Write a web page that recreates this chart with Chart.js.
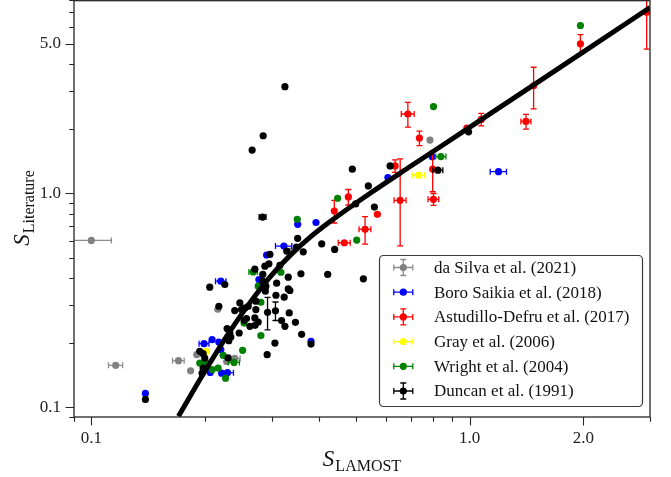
<!DOCTYPE html>
<html>
<head>
<meta charset="utf-8">
<script src="https://cdn.jsdelivr.net/npm/chart.js@4.4.0/dist/chart.umd.min.js"></script>
<style>
  html, body { margin: 0; padding: 0; background: #fff; }
  #wrap { width: 671px; height: 477px; }
</style>
</head>
<body>
<div id="wrap"><canvas id="chart"></canvas></div>
<script>
// axis ticks
const xMajor = [0.1, 1, 2];
const xMajorLabels = ['0.1', '1.0', '2.0'];
const xMinor = [0.09, 0.2, 0.3, 0.4, 0.5, 0.6, 0.7, 0.8, 0.9, 3];
const yMajor = [0.1, 1, 5];
const yMajorLabels = ['0.1', '1.0', '5.0'];
const yMinor = [0.09, 0.2, 0.3, 0.4, 0.5, 0.6, 0.7, 0.8, 0.9, 2, 3, 4, 6, 7, 8];

// fitted relation
const fitX = [0.17, 0.20, 0.232, 0.263, 0.297, 0.335, 0.379, 0.428, 0.546, 0.70, 1.0, 1.475, 1.964, 3.0];
const fitY = [0.0907, 0.148, 0.225, 0.309, 0.407, 0.511, 0.623, 0.737, 1.00, 1.34, 2.03, 3.20, 4.48, 7.38];

// da Silva et al. (2021)
const silvaX = [0.100, 0.116, 0.170, 0.183, 0.190, 0.216, 0.228, 0.2395, 0.337, 0.786];
const silvaY = [0.602, 0.157, 0.165, 0.148, 0.176, 0.287, 0.1635, 0.169, 0.537, 1.771];
const silvaXErr = [0.013, 0.005, 0.006, 0, 0, 0, 0, 0.008, 0, 0];

// Boro Saikia et al. (2018)
const boroX = [0.139, 0.1987, 0.2086, 0.2173, 0.220, 0.220, 0.2774, 0.2907, 0.3229, 0.3513, 0.3927, 0.3809, 0.2063, 0.221, 0.2291, 0.6083, 0.7966, 1.193];
const boroY = [0.116, 0.1982, 0.2069, 0.2016, 0.1858, 0.388, 0.395, 0.5145, 0.5662, 0.7157, 0.730, 0.2032, 0.1454, 0.1443, 0.145, 1.183, 1.48, 1.261];
const boroXErr = [0, 0.006, 0, 0, 0, 0.007, 0, 0, 0.016, 0, 0, 0, 0, 0, 0.0085, 0, 0, 0.059];

// Astudillo-Defru et al. (2017)
const astX = [2.94, 1.964, 1.477, 1.41, 1.074, 0.984, 0.687, 0.737, 0.799, 0.803, 0.6555, 0.6356, 0.5706, 0.5294, 0.4782, 0.439, 0.4667];
const astY = [7.02, 4.99, 3.18, 2.165, 2.213, 2.016, 2.346, 1.81, 1.296, 0.937, 0.927, 1.342, 0.797, 0.678, 0.961, 0.826, 0.587];
const astXErr = [0, 0, 0, 0.043, 0, 0, 0.027, 0, 0, 0.026, 0.024, 0, 0, 0.019, 0, 0, 0.017];
const astYErr = [2.3, 0.52, 0.70, 0.17, 0.15, 0, 0.31, 0.14, 0.28, 0.06, [0.36, 0.52], 0.09, 0, 0.10, 0.08, 0.10, 0];

// Gray et al. (2006)
const grayX = [0.2016, 0.7327];
const grayY = [0.1824, 1.214];
const grayXErr = [0, 0.027];

// Wright et al. (2004)
const wrightX = [1.964, 0.803, 0.840, 0.448, 0.3504, 0.5032, 0.3171, 0.2762, 0.2808, 0.2535, 0.2808, 0.2512, 0.2231, 0.2384, 0.1935, 0.2007, 0.2087, 0.2164, 0.2264, 0.268];
const wrightY = [6.08, 2.54, 1.484, 0.9475, 0.7556, 0.604, 0.4273, 0.3677, 0.3094, 0.2474, 0.2161, 0.1844, 0.1747, 0.162, 0.1608, 0.1625, 0.1497, 0.1524, 0.1367, 0.429];
const wrightXErr = [0, 0, 0.026, 0, 0, 0, 0, 0, 0, 0, 0, 0, 0, 0.008, 0, 0, 0, 0, 0, 0.007];

// Duncan et al. (1991)
const duncanX = [0.139, 0.325, 0.2847, 0.2662, 0.2837, 0.4899, 0.540, 0.500, 0.5603, 0.6166, 0.825, 0.994,
  0.3512, 0.3485, 0.3634, 0.4066, 0.440, 0.3285, 0.2966, 0.2948, 0.2877, 0.3151, 0.2706, 0.2841, 0.2837,
  0.2894, 0.2885, 0.309, 0.3317, 0.3583, 0.4217, 0.524, 0.3317, 0.335, 0.3236, 0.3077, 0.3336, 0.3465,
  0.3185, 0.325, 0.3598, 0.3058, 0.2917, 0.3809, 0.2057, 0.2254, 0.2174, 0.2723, 0.2599, 0.2547, 0.2723,
  0.2496, 0.2395, 0.2706, 0.2573, 0.2762, 0.2626, 0.2535, 0.2711, 0.2286, 0.2338, 0.231, 0.246, 0.23,
  0.1975, 0.1935, 0.1995, 0.1963, 0.1975, 0.2924, 0.3068, 0.2324, 0.247];
const duncanY = [0.1087, 3.148, 1.856, 1.591, 0.774, 1.296, 1.082, 0.891, 0.862, 1.342, 1.282, 1.936,
  0.6154, 0.5602, 0.5325, 0.5805, 0.5465, 0.5366, 0.5176, 0.4679, 0.4563, 0.4598, 0.4418, 0.4173, 0.3882,
  0.3677, 0.3484, 0.3799, 0.4054, 0.4201, 0.4173, 0.398, 0.3572, 0.3511, 0.3266, 0.3337, 0.2758, 0.2493,
  0.2539, 0.2388, 0.2192, 0.1995, 0.176, 0.1973, 0.3639, 0.3746, 0.2963, 0.3129, 0.2963, 0.2909, 0.2859,
  0.2859, 0.2829, 0.2613, 0.2596, 0.2502, 0.2388, 0.2547, 0.2414, 0.2331, 0.2128, 0.2047, 0.2222, 0.17,
  0.178, 0.1824, 0.1697, 0.1443, 0.1524, 0.2779, 0.2823, 0.2222, 0.3072];
const duncanXErr = duncanX.map((v, i) => i === 4 ? 0.006 : i === 10 ? 0.025 : 0);
const duncanYErr = duncanX.map((v, i) => i === 69 ? 0.048 : i === 70 ? 0.028 : 0);

function pts(xs, ys) {
  return xs.map((x, i) => ({ x: x, y: ys[i] }));
}

function scatterSet(label, color, xs, ys, xErr, yErr, order, legendYErr, errColor) {
  return {
    type: 'scatter',
    label: label,
    data: pts(xs, ys),
    backgroundColor: color,
    borderWidth: 0,
    pointRadius: 3.6,
    pointHoverRadius: 3.6,
    xErr: xErr,
    yErr: yErr,
    errColor: errColor || color,
    legendYErr: legendYErr,
    order: order
  };
}

const datasets = [
  {
    type: 'line',
    label: 'fit',
    data: pts(fitX, fitY),
    borderColor: '#000',
    borderWidth: 5,
    pointRadius: 0,
    fill: false,
    cubicInterpolationMode: 'monotone',
    order: 0
  },
  scatterSet('da Silva et al. (2021)', '#808080', silvaX, silvaY, silvaXErr, null, 6, true, '#8c8c8c'),
  scatterSet('Boro Saikia et al. (2018)', '#0000ff', boroX, boroY, boroXErr, null, 5, false),
  scatterSet('Astudillo-Defru et al. (2017)', '#ff0000', astX, astY, astXErr, astYErr, 4, true),
  scatterSet('Gray et al. (2006)', '#ffff00', grayX, grayY, grayXErr, null, 3, false),
  scatterSet('Wright et al. (2004)', '#008000', wrightX, wrightY, wrightXErr, null, 2, false),
  scatterSet('Duncan et al. (1991)', '#000000', duncanX, duncanY, duncanXErr, duncanYErr, 1, true)
];

function errPair(arr, i) {
  if (!arr) return null;
  const v = arr[i];
  if (!v) return null;
  return Array.isArray(v) ? v : [v, v];
}

const errorBars = {
  id: 'errorBars',
  beforeDatasetDraw(chart, args) {
    const ds = chart.data.datasets[args.index];
    if (!ds.xErr && !ds.yErr) return;
    const xs = chart.scales.x, ys = chart.scales.y, ctx = chart.ctx, a = chart.chartArea;
    ctx.save();
    ctx.beginPath();
    ctx.rect(a.left, a.top, a.right - a.left, a.bottom - a.top);
    ctx.clip();
    ctx.strokeStyle = ds.errColor;
    ctx.lineWidth = 1.3;
    const cap = 3;
    ds.data.forEach((p, i) => {
      const px = xs.getPixelForValue(p.x), py = ys.getPixelForValue(p.y);
      const ex = errPair(ds.xErr, i), ey = errPair(ds.yErr, i);
      ctx.beginPath();
      if (ex) {
        const l = xs.getPixelForValue(Math.max(p.x - ex[0], 1e-4));
        const r = xs.getPixelForValue(p.x + ex[1]);
        ctx.moveTo(l, py); ctx.lineTo(r, py);
        ctx.moveTo(l, py - cap); ctx.lineTo(l, py + cap);
        ctx.moveTo(r, py - cap); ctx.lineTo(r, py + cap);
      }
      if (ey) {
        const b = ys.getPixelForValue(Math.max(p.y - ey[0], 1e-4));
        const t = ys.getPixelForValue(p.y + ey[1]);
        ctx.moveTo(px, b); ctx.lineTo(px, t);
        ctx.moveTo(px - cap, b); ctx.lineTo(px + cap, b);
        ctx.moveTo(px - cap, t); ctx.lineTo(px + cap, t);
      }
      ctx.stroke();
    });
    ctx.restore();
  }
};

function drawSubLabel(ctx, main, sub, cx, base) {
  const mainFont = 'italic 23px "Liberation Serif", serif';
  const subFont = '16px "Liberation Serif", serif';
  ctx.font = mainFont;
  const w1 = ctx.measureText(main).width;
  ctx.font = subFont;
  const w2 = ctx.measureText(sub).width;
  const x0 = cx - (w1 + w2 + 1) / 2;
  ctx.textAlign = 'left';
  ctx.textBaseline = 'alphabetic';
  ctx.font = mainFont;
  ctx.fillText(main, x0, base);
  ctx.font = subFont;
  ctx.fillText(sub, x0 + w1 + 1, base + 5);
}

const frame = {
  id: 'frame',
  afterDatasetsDraw(chart) {
    const a = chart.chartArea, ctx = chart.ctx;
    const top = Math.max(a.top, 0.7);
    ctx.save();
    ctx.strokeStyle = '#262626';
    ctx.lineWidth = 1.3;
    ctx.strokeRect(a.left, top, a.right - a.left, a.bottom - top);
    ctx.restore();
  },
  afterDraw(chart) {
    const a = chart.chartArea, ctx = chart.ctx;
    const xs = chart.scales.x, ys = chart.scales.y;
    ctx.save();
    ctx.strokeStyle = '#262626';
    ctx.lineWidth = 1.1;
    ctx.beginPath();
    xMajor.concat(xMinor).forEach(v => {
      const len = xMajor.includes(v) ? 8.5 : 4.8;
      const px = Math.round(xs.getPixelForValue(v)) + 0.5;
      ctx.moveTo(px, a.bottom); ctx.lineTo(px, a.bottom + len);
    });
    yMajor.concat(yMinor).forEach(v => {
      const len = yMajor.includes(v) ? 8.5 : 4.8;
      const py = Math.round(ys.getPixelForValue(v)) + 0.5;
      ctx.moveTo(a.left, py); ctx.lineTo(a.left - len, py);
    });
    ctx.stroke();

    // axis titles
    ctx.fillStyle = '#111';
    drawSubLabel(ctx, 'S', 'LAMOST', (a.left + a.right) / 2, 466);
    ctx.save();
    ctx.translate(29, 208);
    ctx.rotate(-Math.PI / 2);
    drawSubLabel(ctx, 'S', 'Literature', 0, 0);
    ctx.restore();

    // legend
    const lx = 379.5, ly = 255.5, lw = 263, lh = 151, r = 4;
    ctx.beginPath();
    ctx.moveTo(lx + r, ly);
    ctx.arcTo(lx + lw, ly, lx + lw, ly + lh, r);
    ctx.arcTo(lx + lw, ly + lh, lx, ly + lh, r);
    ctx.arcTo(lx, ly + lh, lx, ly, r);
    ctx.arcTo(lx, ly, lx + lw, ly, r);
    ctx.closePath();
    ctx.fillStyle = 'rgba(255,255,255,0.85)';
    ctx.fill();
    ctx.strokeStyle = '#3a3a3a';
    ctx.lineWidth = 1.2;
    ctx.stroke();

    const items = chart.data.datasets.filter(d => d.type === 'scatter');
    ctx.font = '17px "Liberation Serif", serif';
    ctx.textAlign = 'left';
    ctx.textBaseline = 'middle';
    items.forEach((d, i) => {
      const cy = 267.5 + i * 24.7, mx = 403.3;
      ctx.strokeStyle = d.errColor;
      ctx.lineWidth = 1.3;
      ctx.beginPath();
      ctx.moveTo(mx - 9.5, cy); ctx.lineTo(mx + 9.5, cy);
      ctx.moveTo(mx - 9.5, cy - 3); ctx.lineTo(mx - 9.5, cy + 3);
      ctx.moveTo(mx + 9.5, cy - 3); ctx.lineTo(mx + 9.5, cy + 3);
      if (d.legendYErr) {
        ctx.moveTo(mx, cy - 8); ctx.lineTo(mx, cy + 8);
        ctx.moveTo(mx - 3, cy - 8); ctx.lineTo(mx + 3, cy - 8);
        ctx.moveTo(mx - 3, cy + 8); ctx.lineTo(mx + 3, cy + 8);
      }
      ctx.stroke();
      ctx.fillStyle = d.backgroundColor;
      ctx.beginPath();
      ctx.arc(mx, cy, 3.6, 0, Math.PI * 2);
      ctx.fill();
      ctx.fillStyle = '#111';
      ctx.fillText(d.label, 434, cy + 1);
    });
    ctx.restore();
  }
};

function setTicks(values) {
  return function (scale) {
    scale.ticks = values.slice().sort((p, q) => p - q).map(v => ({ value: v }));
  };
}

function noPad(scale) {
  scale.paddingTop = 0;
  scale.paddingBottom = 0;
  scale.paddingLeft = 0;
  scale.paddingRight = 0;
}

new Chart(document.getElementById('chart'), {
  data: { datasets: datasets },
  options: {
    responsive: true,
    maintainAspectRatio: false,
    animation: false,
    devicePixelRatio: 1,
    layout: { autoPadding: false, padding: { top: 0, right: 21, left: 0, bottom: 0 } },
    plugins: { legend: { display: false }, tooltip: { enabled: false } },
    scales: {
      x: {
        type: 'logarithmic',
        position: 'bottom',
        min: 0.09,
        max: 3.0,
        afterBuildTicks: setTicks(xMajor.concat(xMinor)),
        afterFit(scale) { scale.height = 60; noPad(scale); },
        grid: { display: false, drawTicks: true, tickLength: 8 },
        border: { display: false },
        ticks: {
          autoSkip: false,
          maxRotation: 0,
          padding: 3,
          color: '#222',
          font: { family: '"Liberation Serif", serif', size: 17 },
          callback: v => { const k = xMajor.indexOf(v); return k >= 0 ? xMajorLabels[k] : ''; }
        }
      },
      y: {
        type: 'logarithmic',
        position: 'left',
        min: 0.09,
        max: 8,
        afterBuildTicks: setTicks(yMajor.concat(yMinor)),
        afterFit(scale) { scale.width = 74; noPad(scale); },
        grid: { display: false, drawTicks: true, tickLength: 8 },
        border: { display: false },
        ticks: {
          autoSkip: false,
          padding: 5,
          color: '#222',
          font: { family: '"Liberation Serif", serif', size: 17 },
          callback: v => { const k = yMajor.indexOf(v); return k >= 0 ? yMajorLabels[k] : ''; }
        }
      }
    }
  },
  plugins: [errorBars, frame]
});
</script>
</body>
</html>
